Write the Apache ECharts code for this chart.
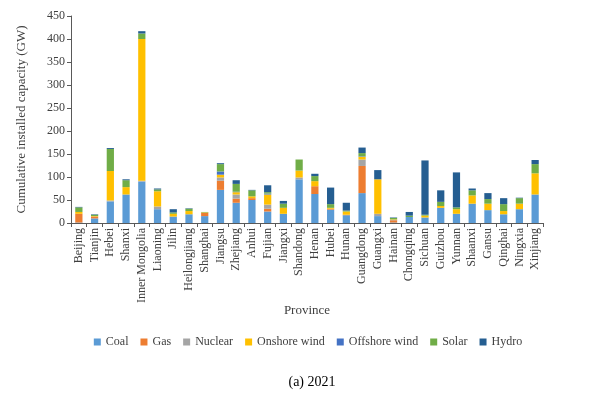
<!DOCTYPE html>
<html><head><meta charset="utf-8">
<script src="https://cdn.jsdelivr.net/npm/echarts@6/dist/echarts.min.js"></script>
<style>html,body{margin:0;padding:0;background:#fff}#c{width:616px;height:395px}</style>
</head><body><div id="c"></div>
<script>
var provinces = ["Beijing","Tianjin","Hebei","Shanxi","Inner Mongolia","Liaoning","Jilin","Heilongjiang","Shanghai","Jiangsu","Zhejiang","Anhui","Fujian","Jiangxi","Shandong","Henan","Hubei","Hunan","Guangdong","Guangxi","Hainan","Chongqing","Sichuan","Guizhou","Yunnan","Shaanxi","Gansu","Qinghai","Ningxia","Xinjiang"];
var coal     = [1,10,47,62,90,30,14,19,15,72,44,50,25,20,95,63,29,17,65,15,1,13,12,33,20,42,28,19,30,62];
var gas      = [19,4,0,0,0,0,0,0,7,20,9,4,6,0,0,17,2,1,59,0,5,0,0,0,0,0,0,0,0,0];
var nuclear  = [0,0,2,0,2,6,0,0,0,7,9,0,9,0,4,0,0,0,14,5,1,0,0,0,0,0,0,0,0,0];
var onshore  = [4,1,64,16,308,33,6,7,1,6,5,4,22,13,15,11,2,7,6,75,1,0,4,4,10,18,14,7,12,46];
var offshore = [0,0,0,0,0,0,0,0,0,7,1,0,2,0,0,0,0,0,1,0,0,0,0,0,0,0,0,0,0,0];
var solar    = [10,3,48,15,12,4,3,5,1,16,17,13,3,9,24,11,8,2,7,0,3,3,2,9,4,11,10,15,12,20];
var hydro    = [1,1,2,2,5,2,7,1,0,2,8,1,15,6,0,5,36,17,12,20,1,8,118,25,76,4,13,13,1,9];
var seriesNames = ["Coal","Gas","Nuclear","Onshore wind","Offshore wind","Solar","Hydro"];
var seriesData = [coal,gas,nuclear,onshore,offshore,solar,hydro];
var colors = ["#5B9BD5","#ED7D31","#A5A5A5","#FFC000","#4472C4","#70AD47","#255E91"];
var yTicks = {min:0,max:450,interval:50};

var font = "'Liberation Serif','Times New Roman',serif";
var chart = echarts.init(document.getElementById('c'), null, {renderer:'canvas'});
chart.setOption({
  animation:false,
  color: colors,
  textStyle:{fontFamily:font},
  title:{text:"(a) 2021", left:307, top:370, textAlign:'center',
    textStyle:{fontFamily:font,fontSize:14,fontWeight:'normal',color:'#000'}},
  legend:{data:seriesNames, top:331, left:'center', itemWidth:7, itemHeight:7, itemGap:12,
    icon:'rect', textStyle:{fontFamily:font,fontSize:12,color:'#404040'}},
  grid:{left:71,right:73,top:16,bottom:172,containLabel:false},
  xAxis:{type:'category', data:provinces, name:"Province", nameLocation:'middle', nameGap:81,
    nameMoveOverlap:false,
    nameTextStyle:{fontFamily:font,fontSize:13,color:'#404040'},
    axisLine:{lineStyle:{color:'#595959'}},
    axisTick:{show:true,alignWithLabel:false,length:4,lineStyle:{color:'#595959'}},
    axisLabel:{rotate:90,interval:0,fontFamily:font,fontSize:12,color:'#404040',margin:5}},
  yAxis:{type:'value', min:yTicks.min, max:yTicks.max, interval:yTicks.interval,
    name:"Cumulative installed capacity (GW)", nameLocation:'middle', nameGap:43,
    nameMoveOverlap:false,
    nameTextStyle:{fontFamily:font,fontSize:13,color:'#404040'},
    splitLine:{show:false},
    axisLine:{show:true,lineStyle:{color:'#595959'}},
    axisTick:{show:true,length:4,lineStyle:{color:'#595959'}},
    axisLabel:{fontFamily:font,fontSize:12,color:'#404040',margin:6}},
  series: seriesNames.map(function(n,i){
    return {name:n,type:'bar',stack:'total',data:seriesData[i],barWidth:'46%',
      itemStyle:{color:colors[i]}};
  })
});
</script></body></html>
